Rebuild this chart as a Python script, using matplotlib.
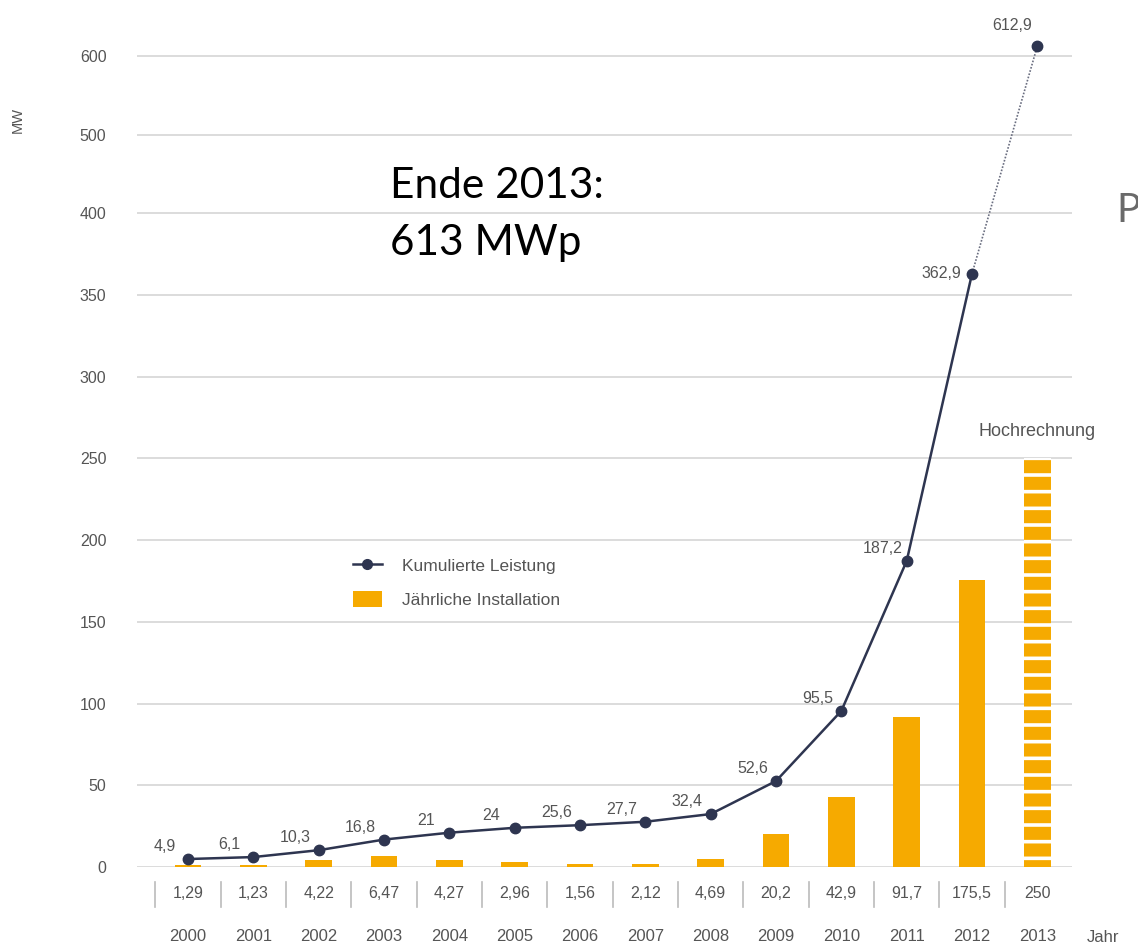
import numpy as np
import matplotlib
matplotlib.use("Agg")
import matplotlib.pyplot as plt
import matplotlib.transforms as mtransforms
from matplotlib.lines import Line2D
from matplotlib.patches import Patch

years = ["2000", "2001", "2002", "2003", "2004", "2005", "2006",
         "2007", "2008", "2009", "2010", "2011", "2012", "2013"]
annual = [1.29, 1.23, 4.22, 6.47, 4.27, 2.96, 1.56, 2.12, 4.69, 20.2, 42.9, 91.7, 175.5, 250]
annual_labels = ["1,29", "1,23", "4,22", "6,47", "4,27", "2,96", "1,56",
                 "2,12", "4,69", "20,2", "42,9", "91,7", "175,5", "250"]
cumulative = [4.9, 6.1, 10.3, 16.8, 21, 24, 25.6, 27.7, 32.4, 52.6, 95.5, 187.2, 362.9, 612.9]
cumulative_labels = ["4,9", "6,1", "10,3", "16,8", "21", "24", "25,6", "27,7",
                     "32,4", "52,6", "95,5", "187,2", "362,9", "612,9"]
yticks = [0, 50, 100, 150, 200, 250, 300, 350, 400, 500, 600]

ORANGE = "#F6AA00"
NAVY = "#2E3550"
GREY = "#555555"
GRID = "#D2D2D2"
FONT = "Liberation Sans"

plt.rcParams["font.family"] = [FONT, "DejaVu Sans"]
plt.rcParams["hatch.linewidth"] = 2.6


# y axis is compressed above 400
def fwd(y):
    y = np.asarray(y, dtype=float)
    return np.where(y <= 400, y, 400 + (y - 400) * 0.48)


def inv(t):
    t = np.asarray(t, dtype=float)
    return np.where(t <= 400, t, 400 + (t - 400) / 0.48)


fig = plt.figure(figsize=(11.38, 9.48), dpi=100)
ax = fig.add_axes([0.1204, 0.0854, 0.8216, 0.8886])
ax.set_yscale("function", functions=(fwd, inv))
ax.set_ylim(0, 640)
ax.set_xlim(-0.78, 13.53)

x = np.arange(len(years))

# grid
for t in yticks:
    ax.axhline(t, color=GRID, lw=1.1, zorder=0)

# annual bars (last one is a projection, striped)
ax.bar(x[:-1], annual[:-1], width=0.41, color=ORANGE, zorder=2)
ax.bar(x[-1:], annual[-1:], width=0.41, color=ORANGE, edgecolor="white",
       linewidth=0, hatch="-", zorder=2)

# cumulative line, dotted to the projected year
ax.plot(x[:-1], cumulative[:-1], color=NAVY, lw=1.8, zorder=3)
ax.plot(x[-2:], cumulative[-2:], color="#6a6e80", lw=1.2, ls=(0, (1, 1)), zorder=3)
ax.plot(x, cumulative, ls="none", marker="o", ms=7.5, color=NAVY, zorder=4)

for xi, v, lab in zip(x, cumulative, cumulative_labels):
    if lab == "362,9":
        off = (-22, 0)
    elif lab == "612,9":
        off = (-18, 15)
    else:
        off = (-17, 9)
    ax.annotate(lab, (xi, v), xytext=off, textcoords="offset points",
                ha="center", va="center", fontsize=11.5, color=GREY)

ax.annotate("Hochrechnung", (x[-1], annual[-1]), xytext=(0, 19),
            textcoords="offset points", ha="center", va="center",
            fontsize=13, color=GREY)

# value row and year row under the plot
trans = mtransforms.blended_transform_factory(ax.transData, ax.transAxes)
for xi, lab, yr in zip(x, annual_labels, years):
    ax.text(xi, -0.031, lab, transform=trans, ha="center", va="center",
            fontsize=11.5, color=GREY)
    ax.text(xi, -0.083, yr, transform=trans, ha="center", va="center",
            fontsize=12, color=GREY)
for xi in x:
    ax.plot([xi - 0.5, xi - 0.5], [-0.018, -0.048], transform=trans,
            color="#BBBBBB", lw=1.2, clip_on=False)

ax.set_yticks(yticks)
ax.set_yticklabels([str(t) for t in yticks])
ax.tick_params(axis="y", length=0, pad=22, labelsize=11.5, labelcolor=GREY)
ax.set_xticks([])
for s in ax.spines.values():
    s.set_visible(False)

fig.text(18 / 1138, 1 - 120 / 948, "MW", rotation=90, ha="center", va="center",
         fontsize=10.5, color=GREY)
fig.text(1087 / 1138, 1 - 937 / 948, "Jahr", ha="left", va="center",
         fontsize=12, color=GREY)

handles = [Line2D([], [], color=NAVY, lw=1.8, marker="o", ms=7),
           Patch(facecolor=ORANGE)]
fig.legend(handles, ["Kumulierte Leistung", "Jährliche Installation"],
           loc="upper left", bbox_to_anchor=(353 / 1138, 1 - 557 / 948),
           frameon=False, fontsize=12.5, labelcolor=GREY, borderpad=0,
           borderaxespad=0, handlelength=1.67, handleheight=1.0,
           handletextpad=1.15, labelspacing=1.0)

big = ["Lato", "DejaVu Sans"]
fig.text(390 / 1138, 1 - 198 / 948, "Ende 2013:", ha="left", va="baseline",
         fontsize=30.5, family=big, color="black")
fig.text(390 / 1138, 1 - 255 / 948, "613 MWp", ha="left", va="baseline",
         fontsize=30.5, family=big, color="black")
fig.text(1116 / 1138, 1 - 222 / 948, "P", ha="left", va="baseline",
         fontsize=29, family=big, color="#6a6a6a")

fig.savefig("out.png", dpi=100, facecolor="white")
